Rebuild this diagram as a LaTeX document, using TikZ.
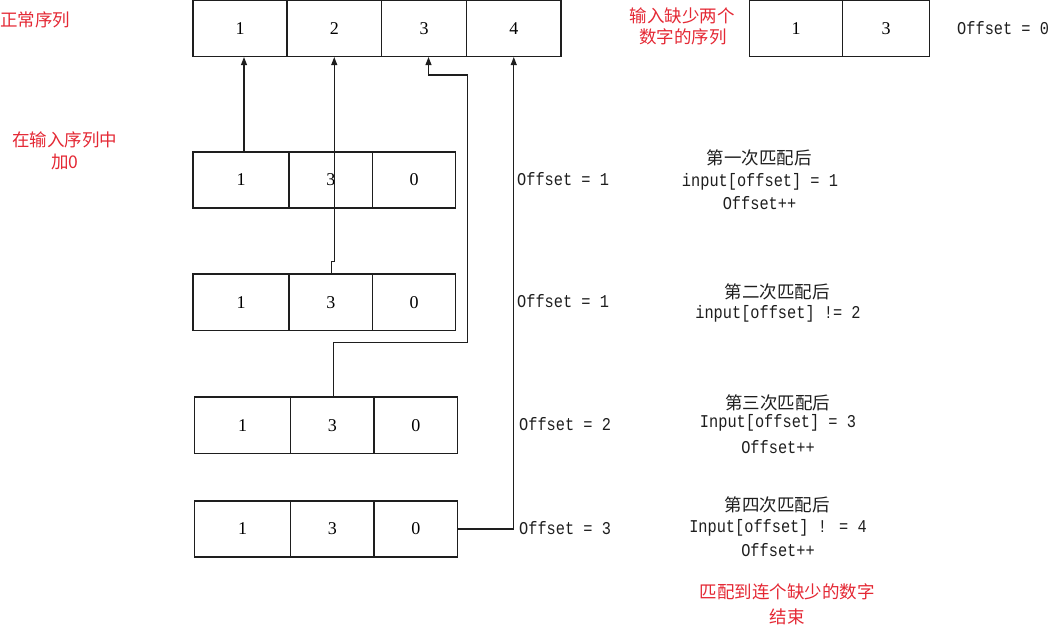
\documentclass[tikz,border=0pt]{standalone}
\usepackage{fontspec}
\setmainfont{Liberation Serif}
\newfontfamily\monof[FakeStretch=0.85]{Liberation Mono}
\newfontfamily\cjk{Noto Sans CJK SC}
\usetikzlibrary{arrows.meta}
\definecolor{redtxt}{RGB}{228,40,52}
\definecolor{ln}{RGB}{30,30,30}
\begin{document}
\begin{tikzpicture}[x=1pt,y=-1pt,
  cell/.style={draw=ln,line width=1.1pt,rectangle,inner sep=0pt,
    font=\fontsize{18}{20}\selectfont},
  lbl/.style={inner sep=0pt,font=\monof\fontsize{18}{20}\selectfont,text=ln},
  cn/.style={inner sep=0pt,font=\cjk\fontsize{17.5}{20}\selectfont,text=ln},
  rn/.style={inner sep=0pt,font=\cjk\fontsize{17.5}{20}\selectfont,text=redtxt},
  conn/.style={draw=ln,line width=1.1pt},
  arr/.style={conn,-{Triangle[length=8pt,width=6pt]}}]
\useasboundingbox (0,0) rectangle (1052,629);
% top row: normal sequence
\node[cell,minimum width=94pt,minimum height=56pt] (t1) at (240,28.5) {1};
\node[cell,minimum width=94.5pt,minimum height=56pt] (t2) at (334.25,28.5) {2};
\node[cell,minimum width=85pt,minimum height=56pt] (t3) at (424,28.5) {3};
\node[cell,minimum width=94.5pt,minimum height=56pt] (t4) at (513.75,28.5) {4};
% top right: input
\node[cell,minimum width=93pt,minimum height=56pt] (r1) at (796,28.5) {1};
\node[cell,minimum width=87pt,minimum height=56pt] (r2) at (886,28.5) {3};
% row a
\node[cell,minimum width=96pt,minimum height=56pt] (a1) at (241,180) {1};
\node[cell,minimum width=83.5pt,minimum height=56pt] (a2) at (330.75,180) {3};
\node[cell,minimum width=83pt,minimum height=56pt] (a3) at (414,180) {0};
% row b
\node[cell,minimum width=96pt,minimum height=56.5pt] (b1) at (241,302.25) {1};
\node[cell,minimum width=83.5pt,minimum height=56.5pt] (b2) at (330.75,302.25) {3};
\node[cell,minimum width=83pt,minimum height=56.5pt] (b3) at (414,302.25) {0};
% row c
\node[cell,minimum width=96pt,minimum height=56.5pt] (c1) at (242.5,425.25) {1};
\node[cell,minimum width=83.5pt,minimum height=56.5pt] (c2) at (332.25,425.25) {3};
\node[cell,minimum width=83.5pt,minimum height=56.5pt] (c3) at (415.75,425.25) {0};
% row d
\node[cell,minimum width=96pt,minimum height=56pt] (d1) at (242.5,529) {1};
\node[cell,minimum width=83.5pt,minimum height=56pt] (d2) at (332.25,529) {3};
\node[cell,minimum width=83.5pt,minimum height=56pt] (d3) at (415.75,529) {0};
% connectors
\coordinate (k1) at (467.3,342.7);
\coordinate (k2) at (428.5,75);
\draw[arr] ([xshift=3pt]a1.north) -- ([xshift=3pt]a1.north |- t1.south);
\draw[arr] ([xshift=1pt]b2.north) -- ++(0,-12) -| (t2.south);
\draw[arr] ([xshift=1.5pt]c2.north) |- (k1) |- (k2) -- ([xshift=4.5pt]t3.south);
\draw[arr] (d3.east) -| (t4.south);
% offset labels
\node[lbl,anchor=west] (o1) at (517,179) {Offset = 1};
\node[lbl,anchor=west] (o2) at (517,301.5) {Offset = 1};
\node[lbl,anchor=west] (o3) at (519,424) {Offset = 2};
\node[lbl,anchor=west] (o4) at (519,528) {Offset = 3};
\node[lbl,anchor=west] (o0) at (957,28) {Offset = 0};
% red labels
\node[rn,anchor=west] (l1) at (0,20) {正常序列};
\node[rn] (l2a) at (682,16) {输入缺少两个};
\node[rn] (l2b) at (683,37) {数字的序列};
\node[rn] (l3a) at (65,140) {在输入序列中};
\node[rn] (l3b) at (65,162) {加0};
\node[rn] (l4a) at (787,592) {匹配到连个缺少的数字};
\node[rn] (l4b) at (787,617) {结束};
% step descriptions
\node[cn] (s1a) at (759,158) {第一次匹配后};
\node[lbl] (s1b) at (760,182) {input[offset] = 1};
\node[lbl] (s1c) at (759.5,203) {Offset++};
\node[cn] (s2a) at (777,292) {第二次匹配后};
\node[lbl] (s2b) at (778,314) {input[offset] != 2};
\node[cn] (s3a) at (777.5,403) {第三次匹配后};
\node[lbl] (s3b) at (778,423) {Input[offset] = 3};
\node[lbl] (s3c) at (778,447) {Offset++};
\node[cn] (s4a) at (777,505) {第四次匹配后};
\node[lbl] (s4b) at (778,528) {Input[offset] ! = 4};
\node[lbl] (s4c) at (778,550) {Offset++};
\end{tikzpicture}
\end{document}
